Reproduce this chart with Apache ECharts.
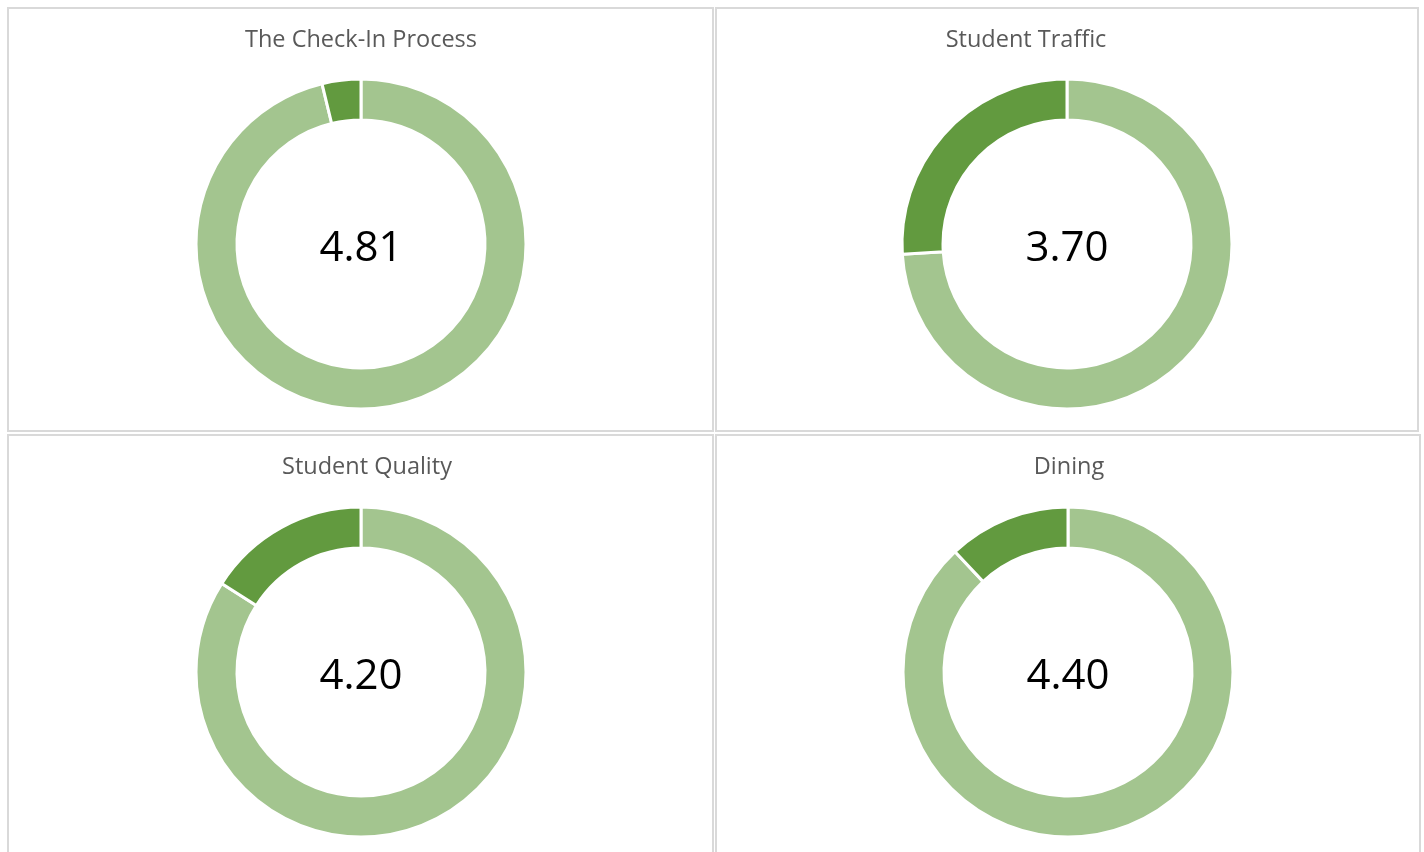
<!DOCTYPE html>
<html>
<head>
<meta charset="utf-8">
<script src="https://cdn.jsdelivr.net/npm/echarts@6/dist/echarts.min.js"></script>
<style>
  html, body { margin: 0; padding: 0; background: #fff; }
  #main { width: 1424px; height: 852px; }
</style>
</head>
<body>
<div id="main"></div>
<script>
  const titles = ["The Check-In Process", "Student Traffic", "Student Quality", "Dining"];
  const scores = [4.81, 3.70, 4.20, 4.40];
  const maxScore = 5;

  // panel boxes [x, y, w, h], donut centers, title anchors
  const panels = [
    [8, 8, 705, 423],
    [716, 8, 702, 423],
    [8, 435, 705, 430],
    [716, 435, 704, 430],
  ];
  const centers = [
    [361, 244],
    [1067, 244],
    [361, 672],
    [1068, 672],
  ];
  const titlePos = [
    [356, 23],
    [1021, 23],
    [362, 450],
    [1064, 450],
  ];

  const light = "#A3C58F";
  const dark = "#629A3F";

  const chart = echarts.init(document.getElementById("main"));

  const option = {
    animation: false,
    graphic: panels.map((p) => ({
      type: "rect",
      shape: { x: p[0], y: p[1], width: p[2], height: p[3] },
      style: { fill: "none", stroke: "#d9d9d9", lineWidth: 2 },
      silent: true,
      z: -1,
    })),
    title: titles.map((t, i) => ({
      text: t,
      left: titlePos[i][0],
      top: titlePos[i][1],
      textAlign: "center",
      textStyle: {
        fontFamily: "Open Sans",
        fontSize: 23.5,
        fontWeight: "normal",
        color: "#595959",
      },
    })),
    series: scores.map((s, i) => ({
      type: "pie",
      center: centers[i],
      radius: [124, 165],
      startAngle: 90,
      clockwise: true,
      silent: true,
      itemStyle: { borderColor: "#fff", borderWidth: 3 },
      label: { show: false },
      labelLine: { show: false },
      data: [
        {
          value: s,
          name: titles[i],
          itemStyle: { color: light },
          label: {
            show: true,
            position: "center",
            formatter: () => s.toFixed(2),
            fontFamily: "Open Sans",
            fontSize: 42,
            color: "#000",
            offset: [0, 5],
          },
        },
        { value: +(maxScore - s).toFixed(2), name: "rest", itemStyle: { color: dark } },
      ],
    })),
  };

  chart.setOption(option);
</script>
</body>
</html>
